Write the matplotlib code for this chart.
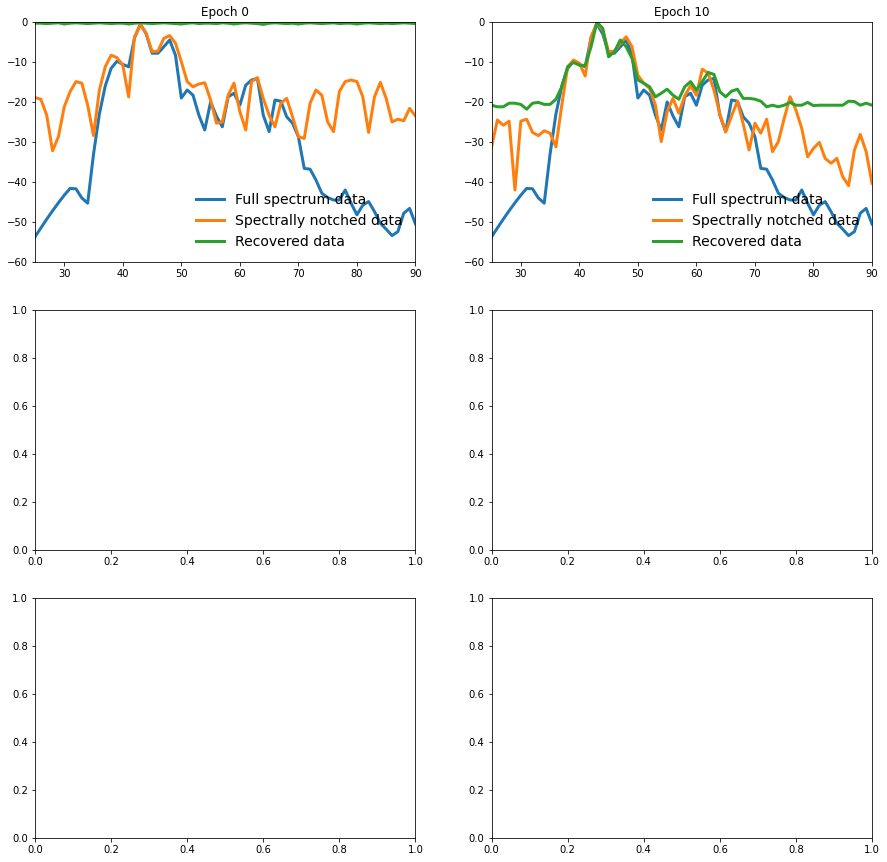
import numpy as np
from matplotlib import pyplot as plt

freq = np.arange(25, 91)

full_spectrum = [-53.7, -51.5, -49.3, -47.2, -45.2, -43.3, -41.6, -41.7, -44.0, -45.3,
                 -33.0, -23.0, -16.0, -11.6, -9.8, -10.6, -11.2, -4.0, -0.5, -3.0,
                 -7.8, -7.8, -6.2, -4.5, -8.3, -19.0, -17.0, -18.3, -23.3, -27.0,
                 -20.0, -23.5, -26.2, -18.7, -17.8, -20.8, -15.8, -14.5, -14.1, -23.3,
                 -27.4, -19.5, -19.8, -23.7, -25.3, -28.7, -36.6, -36.8, -39.5, -42.8,
                 -43.9, -44.5, -44.5, -42.0, -45.3, -48.2, -45.8, -44.9, -47.4, -50.3,
                 -51.8, -53.4, -52.4, -47.8, -46.6, -50.5]

notched_ep0 = [-18.9, -19.3, -23.3, -32.2, -28.7, -21.2, -17.4, -14.9, -15.3, -20.8,
               -28.4, -17.0, -11.2, -8.3, -8.9, -10.8, -18.7, -3.7, -0.7, -2.8,
               -7.4, -7.3, -4.1, -3.4, -5.3, -9.9, -14.9, -16.2, -15.5, -15.2,
               -19.5, -25.3, -25.0, -18.3, -15.3, -22.4, -27.0, -14.9, -13.9, -19.1,
               -23.3, -26.2, -20.3, -19.1, -23.7, -28.7, -29.1, -20.3, -17.0, -18.3,
               -25.0, -27.4, -17.4, -14.9, -14.5, -14.9, -18.7, -27.6, -18.7, -15.1,
               -19.1, -25.0, -24.3, -24.7, -21.6, -23.5]

recovered_ep0 = [-0.3, -0.3, -0.4, -0.3, -0.2, -0.5, -0.3, -0.2, -0.3, -0.4,
                 -0.3, -0.2, -0.3, -0.4, -0.3, -0.3, -0.5, -0.3, -0.2, -0.3,
                 -0.4, -0.3, -0.2, -0.3, -0.4, -0.5, -0.3, -0.2, -0.4, -0.3,
                 -0.3, -0.4, -0.2, -0.3, -0.5, -0.3, -0.2, -0.3, -0.4, -0.6,
                 -0.3, -0.2, -0.3, -0.4, -0.3, -0.5, -0.3, -0.2, -0.3, -0.4,
                 -0.3, -0.2, -0.4, -0.3, -0.3, -0.5, -0.3, -0.2, -0.3, -0.4,
                 -0.3, -0.4, -0.3, -0.2, -0.3, -0.4]

notched_ep10 = [-31.2, -24.5, -25.8, -24.8, -42.0, -24.8, -24.3, -27.6, -28.4, -27.2,
                -27.8, -31.2, -20.8, -11.2, -9.5, -10.3, -13.5, -3.7, -0.3, -2.0,
                -7.4, -7.3, -5.3, -3.7, -6.2, -13.3, -15.3, -16.6, -20.8, -29.9,
                -22.4, -19.1, -22.8, -18.5, -15.9, -18.3, -11.8, -12.8, -17.0, -23.0,
                -27.5, -23.5, -19.8, -25.5, -32.0, -25.3, -27.8, -24.3, -32.4, -29.9,
                -24.1, -18.7, -22.0, -26.6, -33.7, -31.6, -30.1, -34.1, -35.3, -34.1,
                -38.7, -40.9, -32.0, -28.1, -32.4, -40.3]

recovered_ep10 = [-20.8, -21.2, -21.2, -20.3, -20.3, -20.6, -21.8, -20.3, -20.1, -20.6,
                  -20.6, -19.3, -16.2, -11.2, -10.1, -10.8, -10.9, -6.2, 0.0, -1.6,
                  -8.7, -7.4, -4.5, -6.2, -9.1, -14.5, -15.3, -16.2, -18.7, -17.8,
                  -16.8, -18.3, -19.3, -16.2, -14.9, -17.0, -14.9, -12.6, -13.1, -17.4,
                  -18.7, -17.3, -16.8, -19.1, -19.1, -19.3, -19.8, -21.2, -20.8, -21.2,
                  -20.8, -20.1, -20.8, -20.8, -20.1, -20.9, -20.8, -20.8, -20.8, -20.8,
                  -20.8, -19.8, -19.9, -20.8, -20.3, -20.8]

epochs = [0, 10]
notched = [notched_ep0, notched_ep10]
recovered = [recovered_ep0, recovered_ep10]

fig, axes = plt.subplots(3, 2, figsize=(887 / 72, 862 / 72), dpi=72)
fig.subplots_adjust(left=35 / 887, right=872 / 887, top=1 - 22 / 862, bottom=1 - 838 / 862,
                    wspace=0.2, hspace=0.2)

for i, ep in enumerate(epochs):
    ax = axes[0, i]
    ax.plot(freq, full_spectrum, linewidth=3, label="Full spectrum data")
    ax.plot(freq, notched[i], linewidth=3, label="Spectrally notched data")
    ax.plot(freq, recovered[i], linewidth=3, label="Recovered data")
    ax.set_xlim(25, 90)
    ax.set_ylim(-60, 0)
    ax.set_title("Epoch %d" % ep)
    ax.legend(loc="lower right", frameon=False, fontsize=14)

fig.savefig("out.png", dpi=72)
